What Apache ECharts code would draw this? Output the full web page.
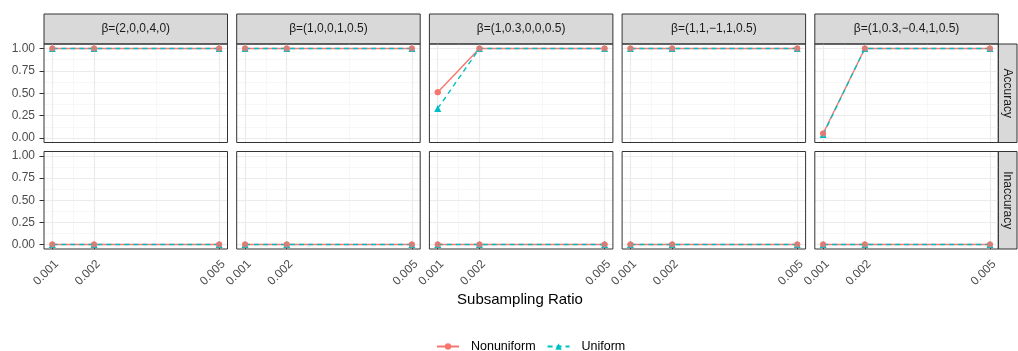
<!DOCTYPE html>
<html>
<head>
<meta charset="utf-8">
<script src="https://cdn.jsdelivr.net/npm/echarts@6/dist/echarts.min.js"></script>
<style>
  html, body { margin: 0; padding: 0; background: #fff; }
  #chart { width: 1018px; height: 351px; }
</style>
</head>
<body>
<div id="chart"></div>
<script>
// facet labels
const colLabels = ['β=(2,0,0,4,0)', 'β=(1,0,0,1,0.5)', 'β=(1,0.3,0,0,0.5)', 'β=(1,1,−1,1,0.5)', 'β=(1,0.3,−0.4,1,0.5)'];
const rowLabels = ['Accuracy', 'Inaccuracy'];
const ratios = [0.001, 0.002, 0.005];
const yTicks = [0, 0.25, 0.5, 0.75, 1];
const xMinor = [0.0015, 0.0035];
const yMinor = [0.125, 0.375, 0.625, 0.875];

// values per facet column, one per ratio
const accNonuniform = [[1, 1, 1], [1, 1, 1], [0.51, 1, 1], [1, 1, 1], [0.05, 1, 1]];
const accUniform = [[1, 1, 1], [1, 1, 1], [0.33, 1, 1], [1, 1, 1], [0.04, 1, 1]];
const inaccNonuniform = [[0, 0, 0], [0, 0, 0], [0, 0, 0], [0, 0, 0], [0, 0, 0]];
const inaccUniform = [[0, 0, 0], [0, 0, 0], [0, 0, 0], [0, 0, 0], [0, 0, 0]];

const RED = '#F8766D', CYAN = '#00BFC4';
const FONT = '"Liberation Sans", Arial, Helvetica, sans-serif';
const XMIN = 0.0008, XMAX = 0.0052, YMIN = -0.05, YMAX = 1.05;

let myChart = echarts.init(document.getElementById('chart'), null, { renderer: 'canvas' });

const panelLeft = 44, panelW = 183.5, panelStep = 192.7;
const rowTop = [44, 151.5], rowH = [98.5, 97.5];
const stripX = panelLeft + 4 * panelStep + panelW;

let grids = [], xAxes = [], yAxes = [], series = [], graphics = [];

function gridSegs (xs, ys) {
  let segs = [];
  xs.forEach(v => segs.push({ coords: [[v, YMIN], [v, YMAX]] }));
  ys.forEach(v => segs.push({ coords: [[XMIN, v], [XMAX, v]] }));
  return segs;
}

for (let r = 0; r < 2; r++) {
  for (let c = 0; c < 5; c++) {
    let idx = r * 5 + c;
    let left = panelLeft + c * panelStep;
    grids.push({
      left: left, top: rowTop[r], width: panelW, height: rowH[r],
      show: true, borderColor: '#333333', borderWidth: 1, backgroundColor: 'transparent', z: 10
    });
    xAxes.push({
      type: 'value', gridIndex: idx, min: XMIN, max: XMAX,
      splitLine: { show: false }, axisLine: { show: false },
      axisTick: { show: r === 1, customValues: ratios, length: 4.5, lineStyle: { color: '#333333' } },
      axisLabel: {
        show: r === 1, customValues: ratios, rotate: 45, margin: 9,
        align: 'right', verticalAlign: 'top',
        color: '#4D4D4D', fontSize: 12, fontFamily: FONT,
        formatter: v => v.toFixed(3)
      }
    });
    yAxes.push({
      type: 'value', gridIndex: idx, min: YMIN, max: YMAX,
      splitLine: { show: false }, axisLine: { show: false },
      axisTick: { show: c === 0, customValues: yTicks, length: 4.5, lineStyle: { color: '#333333' } },
      axisLabel: {
        show: c === 0, customValues: yTicks, margin: 9,
        color: '#4D4D4D', fontSize: 12, fontFamily: FONT,
        formatter: v => v.toFixed(2)
      }
    });

    // grid lines (minor, then major)
    series.push({
      type: 'lines', coordinateSystem: 'cartesian2d', xAxisIndex: idx, yAxisIndex: idx,
      silent: true, z: 0, animation: false,
      lineStyle: { color: '#F4F4F4', width: 0.7, opacity: 1 },
      data: gridSegs(xMinor, yMinor)
    });
    series.push({
      type: 'lines', coordinateSystem: 'cartesian2d', xAxisIndex: idx, yAxisIndex: idx,
      silent: true, z: 0, animation: false,
      lineStyle: { color: '#EBEBEB', width: 1.2, opacity: 1 },
      data: gridSegs(ratios, yTicks)
    });

    let nu = r === 0 ? accNonuniform[c] : inaccNonuniform[c];
    let un = r === 0 ? accUniform[c] : inaccUniform[c];
    series.push({
      name: 'Nonuniform', type: 'line', xAxisIndex: idx, yAxisIndex: idx, z: 3,
      data: ratios.map((x, i) => [x, nu[i]]),
      symbol: 'circle', symbolSize: 6, color: RED,
      lineStyle: { color: RED, width: 1.4 }, itemStyle: { color: RED }, animation: false
    });
    series.push({
      name: 'Uniform', type: 'line', xAxisIndex: idx, yAxisIndex: idx, z: 4,
      data: ratios.map((x, i) => [x, un[i]]),
      symbol: 'triangle', symbolSize: 7, color: CYAN,
      lineStyle: { color: CYAN, width: 1.4, type: [5, 4] }, itemStyle: { color: CYAN }, animation: false
    });
    // red points are drawn over the triangles
    series.push({
      name: '_nu_pts', type: 'scatter', xAxisIndex: idx, yAxisIndex: idx, z: 5,
      data: ratios.map((x, i) => [x, nu[i]]),
      symbol: 'circle', symbolSize: 6, itemStyle: { color: RED }, animation: false
    });

    // top strips
    if (r === 0) {
      graphics.push({
        type: 'rect', shape: { x: left, y: 14, width: panelW, height: 30 },
        style: { fill: '#D9D9D9', stroke: '#333333', lineWidth: 1 }
      });
      graphics.push({
        type: 'text', x: left + panelW / 2, y: 29,
        style: { text: colLabels[c], fill: '#1A1A1A', font: '12px ' + FONT, align: 'center', verticalAlign: 'middle' }
      });
    }
  }
  // right strips
  graphics.push({
    type: 'rect', shape: { x: stripX, y: rowTop[r], width: 1017 - stripX, height: rowH[r] },
    style: { fill: '#D9D9D9', stroke: '#333333', lineWidth: 1 }
  });
  graphics.push({
    type: 'text', x: (stripX + 1017) / 2, y: rowTop[r] + rowH[r] / 2, rotation: -Math.PI / 2,
    style: { text: rowLabels[r], fill: '#1A1A1A', font: '12px ' + FONT, align: 'center', verticalAlign: 'middle' }
  });
}

graphics.push({
  type: 'text', x: 520, y: 300,
  style: { text: 'Subsampling Ratio', fill: '#000000', font: '15px ' + FONT, align: 'center', verticalAlign: 'middle' }
});

myChart.setOption({
  animation: false,
  grid: grids,
  xAxis: xAxes,
  yAxis: yAxes,
  series: series,
  graphic: graphics,
  legend: {
    data: ['Nonuniform', 'Uniform'],
    left: 431, top: 335,
    itemWidth: 22, itemHeight: 8, itemGap: 11,
    formatter: name => '  ' + name,
    textStyle: { color: '#000000', fontSize: 12.5, fontFamily: FONT }
  }
});
</script>
</body>
</html>
